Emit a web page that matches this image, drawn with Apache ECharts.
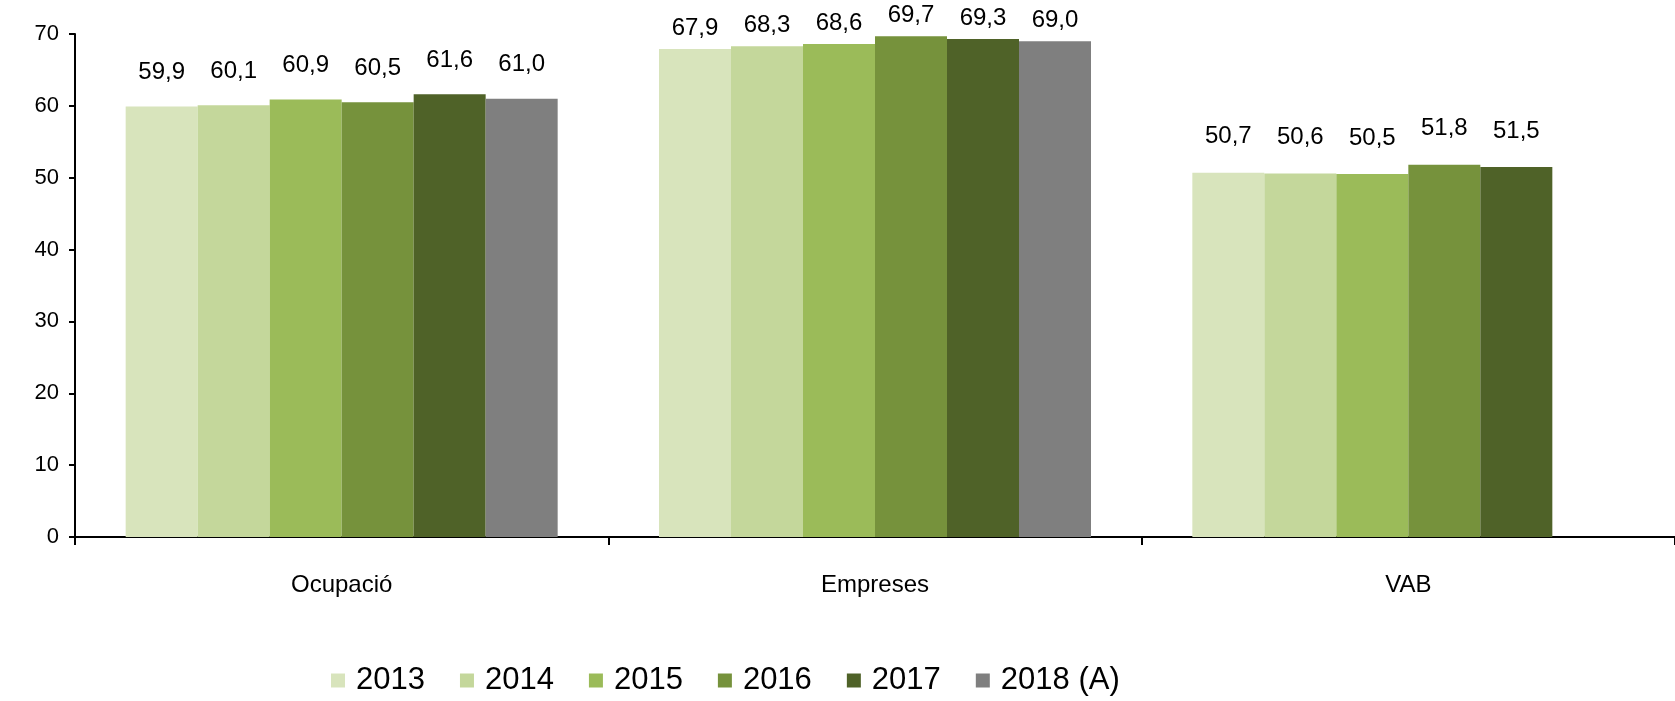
<!DOCTYPE html>
<html>
<head>
<meta charset="utf-8">
<script src="https://cdn.jsdelivr.net/npm/echarts@6/dist/echarts.min.js"></script>
<style>
  html, body { margin: 0; padding: 0; background: #fff; }
  #chart { width: 1675px; height: 701px; }
</style>
</head>
<body>
<div id="chart"></div>
<script>
var categories = ['Ocupació', 'Empreses', 'VAB'];
var years = ['2013', '2014', '2015', '2016', '2017', '2018 (A)'];
var v2013 = [59.9, 67.9, 50.7];
var v2014 = [60.1, 68.3, 50.6];
var v2015 = [60.9, 68.6, 50.5];
var v2016 = [60.5, 69.7, 51.8];
var v2017 = [61.6, 69.3, 51.5];
var v2018 = [61.0, 69.0, '-'];
var yTicks = [0, 10, 20, 30, 40, 50, 60, 70];

var values = [v2013, v2014, v2015, v2016, v2017, v2018];
var colors = ['#D8E4BC', '#C4D79B', '#9BBB59', '#76923C', '#4F6228', '#7F7F7F'];
// label gap above the bar, per category (Excel places them unevenly)
var labelDist = [22, 9, 24];

var series = years.map(function(name, i) {
  return {
    name: name,
    type: 'bar',
    barGap: '0%',
    barCategoryGap: '19%',
    itemStyle: { color: colors[i] },
    label: {
      show: true,
      position: 'top',
      color: '#000',
      fontFamily: 'Liberation Sans',
      fontSize: 24,
      formatter: function(p) {
        return p.value.toFixed(1).replace('.', ',');
      }
    },
    data: values[i].map(function(v, j) {
      return { value: v, label: { distance: labelDist[j] } };
    })
  };
});

var chart = echarts.init(document.getElementById('chart'));
chart.setOption({
  animation: false,
  textStyle: { fontFamily: 'Liberation Sans' },
  grid: { left: 75, right: 0, top: 34, bottom: 164, containLabel: false },
  legend: {
    data: years,
    bottom: 0,
    left: 326,
    itemWidth: 14,
    itemHeight: 14,
    itemGap: 35,
    icon: 'rect',
    textStyle: {
      fontSize: 31,
      color: '#000',
      fontFamily: 'Liberation Sans',
      padding: [0, 0, 0, 6]
    }
  },
  xAxis: {
    type: 'category',
    data: categories,
    axisLine: { lineStyle: { color: '#000', width: 2 } },
    axisTick: { show: true, length: 8, lineStyle: { color: '#000', width: 2 } },
    axisLabel: { color: '#000', fontSize: 24, margin: 36 }
  },
  yAxis: {
    type: 'value',
    min: yTicks[0],
    max: yTicks[yTicks.length - 1],
    interval: 10,
    splitLine: { show: false },
    axisLine: { show: true, lineStyle: { color: '#000', width: 2 } },
    axisTick: { show: true, length: 6, lineStyle: { color: '#000', width: 2 } },
    axisLabel: { color: '#000', fontSize: 22, margin: 16 }
  },
  series: series
});
</script>
</body>
</html>
